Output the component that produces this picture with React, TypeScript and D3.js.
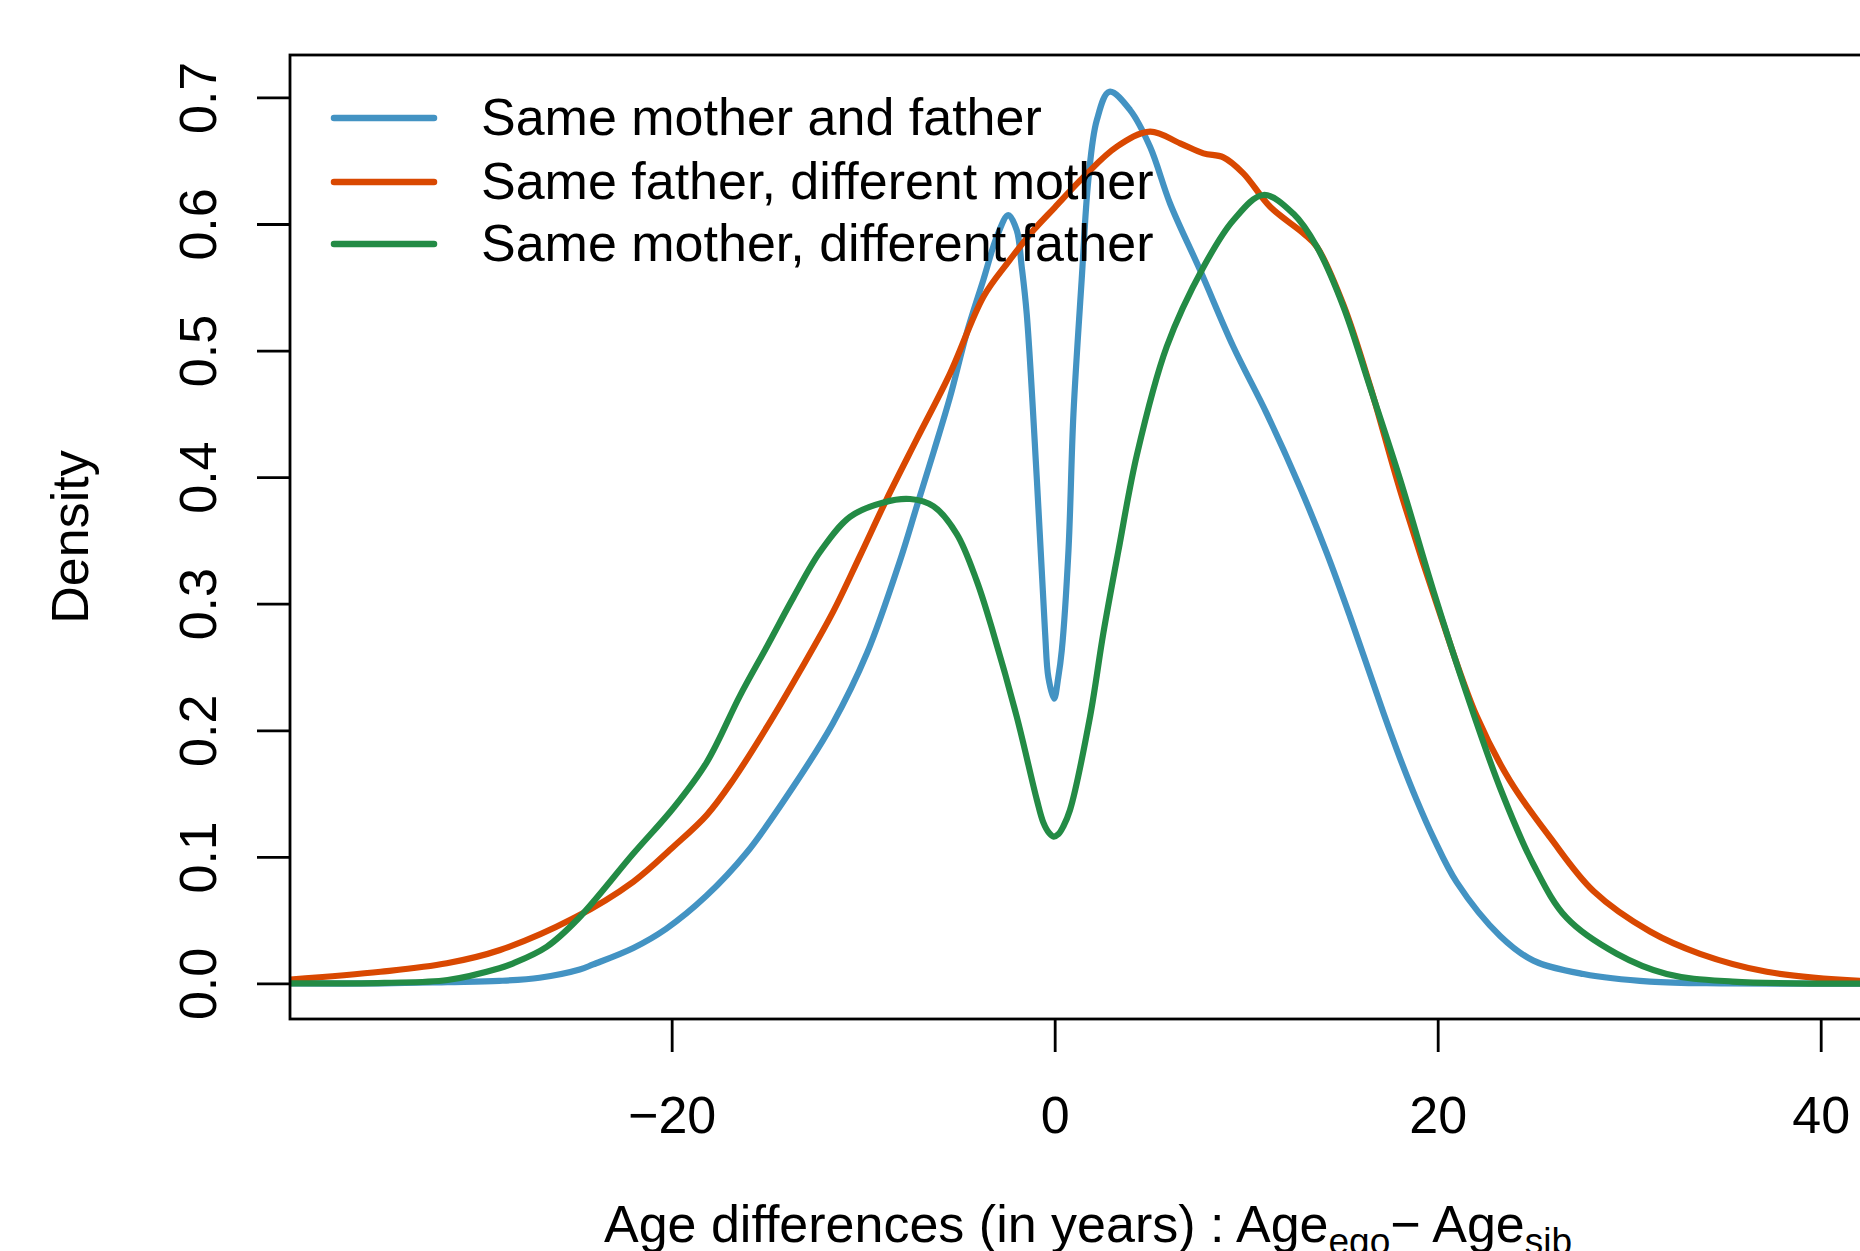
import React, { useEffect, useRef } from 'react';
import * as d3 from 'd3';

// density curves: [age difference, density]
const sameMotherAndFather: [number, number][] = [
  [-40, 0.0], [-35, 0.0], [-31.7, 0.001], [-29, 0.002], [-26.9, 0.0045], [-24.8, 0.011],
  [-24.1, 0.015], [-22, 0.028], [-20.3, 0.043], [-18.2, 0.069], [-16.1, 0.103],
  [-13.8, 0.152], [-11.6, 0.205], [-9.8, 0.261], [-8.1, 0.333], [-7.2, 0.377],
  [-6.3, 0.421], [-5.46, 0.4635], [-4.59, 0.514], [-3.72, 0.556], [-3.02, 0.59],
  [-2.42, 0.607], [-1.98, 0.595], [-1.72, 0.566], [-1.46, 0.529], [-0.93, 0.398],
  [-0.5, 0.277], [-0.33, 0.242], [-0.03, 0.225], [0.19, 0.242], [0.37, 0.263],
  [0.72, 0.342], [0.98, 0.45], [1.41, 0.556], [1.76, 0.635], [2.2, 0.682],
  [2.86, 0.7045], [3.94, 0.69], [4.98, 0.661], [6.03, 0.616], [7.59, 0.5636],
  [9.33, 0.503], [11.08, 0.45], [12.81, 0.392], [14.21, 0.34], [15.42, 0.29],
  [17.16, 0.214], [18.03, 0.178], [18.9, 0.145], [19.78, 0.115], [20.99, 0.08],
  [23.26, 0.0375], [25, 0.018], [27.61, 0.0074], [31.09, 0.0014], [35, 0.0], [44, 0.0],
];

const sameFatherDiffMother: [number, number][] = [
  [-40, 0.003], [-35.2, 0.0092], [-31.74, 0.0159], [-28.96, 0.0264], [-25.13, 0.0514],
  [-22, 0.0804], [-19.91, 0.108], [-18.17, 0.133], [-16.78, 0.161], [-15.03, 0.2024],
  [-13.3, 0.2468], [-11.56, 0.2939], [-10.16, 0.338], [-8.77, 0.3827], [-7.2, 0.43],
  [-5.46, 0.482], [-3.72, 0.5425], [-2.42, 0.57], [-1.11, 0.595], [0, 0.613],
  [1.5, 0.637], [3.24, 0.661], [4.98, 0.673], [6.55, 0.6637], [7.77, 0.6558],
  [8.81, 0.6526], [9.85, 0.64], [11.25, 0.6136], [12.99, 0.5926], [13.69, 0.582],
  [15.08, 0.536], [16.47, 0.472], [18.03, 0.39], [20.12, 0.292], [22.04, 0.211],
  [23.78, 0.16], [25.87, 0.1153], [28.13, 0.073], [31.09, 0.041], [33.7, 0.0234],
  [37.19, 0.0092], [42.06, 0.002], [44, 0.0015],
];

const sameMotherDiffFather: [number, number][] = [
  [-40, 0.0], [-35, 0.0005], [-31.7, 0.0027], [-29, 0.012], [-28.27, 0.0159],
  [-26.52, 0.029], [-24.87, 0.0513], [-22, 0.1026], [-19.91, 0.1386], [-18.17, 0.1747],
  [-16.43, 0.2274], [-15.03, 0.266], [-13.64, 0.305], [-12.25, 0.341], [-10.68, 0.3687],
  [-8.94, 0.38], [-7.55, 0.3827], [-6.33, 0.377], [-5.11, 0.355], [-4.07, 0.318],
  [-3.2, 0.2766], [-1.98, 0.2107], [-0.93, 0.145], [-0.59, 0.127], [-0.3, 0.119],
  [-0.05, 0.116], [0.2, 0.118], [0.45, 0.124], [0.8, 0.137], [1.85, 0.211],
  [2.54, 0.2766], [3.33, 0.342], [4.29, 0.4174], [5.85, 0.503], [7.77, 0.566],
  [9.33, 0.603], [10.9, 0.6229], [12.47, 0.608], [13.69, 0.582], [15.08, 0.5346],
  [16.47, 0.471], [18.04, 0.398], [19.78, 0.31], [21.52, 0.2286], [23.26, 0.1544],
  [25, 0.094], [26.74, 0.0517], [29.35, 0.0234], [31.96, 0.0074], [35.4, 0.0015], [44, 0.0],
];

const seriesNames = [
  'Same mother and father',
  'Same father, different mother',
  'Same mother, different father',
];
const seriesColors = ['#4393c3', '#d94801', '#238b45'];
const xTicks = [-20, 0, 20, 40];
const yTicks = [0, 0.1, 0.2, 0.3, 0.4, 0.5, 0.6, 0.7];

const W = 1860;
const H = 1251;

const App: React.FC = () => {
  const ref = useRef<SVGSVGElement>(null);

  useEffect(() => {
    if (!ref.current) return;
    const svg = d3.select(ref.current);
    svg.selectAll('*').remove();

    const left = 290, top = 55, right = 1886, bottom = 1019;
    const font = "'Liberation Sans', Arial, Helvetica, sans-serif";

    const x = d3.scaleLinear().domain([-39.93, 43.41]).range([left, right]);
    const y = d3.scaleLinear().domain([-0.0281, 0.7335]).range([bottom, top]);

    svg.append('defs').append('clipPath').attr('id', 'plot-clip')
      .append('rect')
      .attr('x', left).attr('y', top)
      .attr('width', right - left).attr('height', bottom - top);

    const line = d3.line<[number, number]>()
      .x(d => x(d[0]))
      .y(d => y(d[1]))
      .curve(d3.curveCatmullRom.alpha(0.5));

    const allSeries = [sameMotherAndFather, sameFatherDiffMother, sameMotherDiffFather];
    const curves = svg.append('g').attr('clip-path', 'url(#plot-clip)');
    allSeries.forEach((s, i) => {
      curves.append('path')
        .datum(s)
        .attr('fill', 'none')
        .attr('stroke', seriesColors[i])
        .attr('stroke-width', 6.2)
        .attr('stroke-linejoin', 'round')
        .attr('stroke-linecap', 'round')
        .attr('d', line);
    });

    // box
    svg.append('rect')
      .attr('x', left).attr('y', top)
      .attr('width', right - left).attr('height', bottom - top)
      .attr('fill', 'none')
      .attr('stroke', '#000')
      .attr('stroke-width', 2.8);

    // x axis
    const xAxis = svg.append('g')
      .attr('transform', `translate(0,${bottom})`)
      .call(d3.axisBottom(x).tickValues(xTicks).tickSize(33).tickSizeOuter(0).tickPadding(44));
    xAxis.select('.domain').remove();
    xAxis.selectAll('line').attr('stroke', '#000').attr('stroke-width', 2.8);
    xAxis.selectAll('text')
      .attr('fill', '#000')
      .style('font-family', font)
      .style('font-size', '52px');

    // y axis, labels parallel to the axis
    const yAxis = svg.append('g')
      .attr('transform', `translate(${left},0)`)
      .call(d3.axisLeft(y).tickValues(yTicks).tickSize(33).tickSizeOuter(0).tickFormat(d3.format('.1f')));
    yAxis.select('.domain').remove();
    yAxis.selectAll('line').attr('stroke', '#000').attr('stroke-width', 2.8);
    yAxis.selectAll('text')
      .attr('x', 0).attr('y', 0).attr('dy', null)
      .attr('transform', 'translate(-74,0) rotate(-90)')
      .attr('text-anchor', 'middle')
      .attr('fill', '#000')
      .style('font-family', font)
      .style('font-size', '52px');

    // axis titles
    svg.append('text')
      .attr('transform', `translate(88,${(top + bottom) / 2}) rotate(-90)`)
      .attr('text-anchor', 'middle')
      .style('font-family', font)
      .style('font-size', '52px')
      .text('Density');

    const title = svg.append('text')
      .attr('x', (left + right) / 2)
      .attr('y', 1242)
      .attr('text-anchor', 'middle')
      .style('font-family', font)
      .style('font-size', '52px');
    title.append('tspan').text('Age differences (in years) : Age');
    title.append('tspan').attr('dy', 12).style('font-size', '37px').text('ego');
    title.append('tspan').attr('dy', -12).text('\u2212 Age');
    title.append('tspan').attr('dy', 12).style('font-size', '37px').text('sib');

    // legend
    const legendY = [118, 182, 244];
    seriesNames.forEach((name, i) => {
      svg.append('line')
        .attr('x1', 334).attr('x2', 434)
        .attr('y1', legendY[i]).attr('y2', legendY[i])
        .attr('stroke', seriesColors[i])
        .attr('stroke-width', 6.5)
        .attr('stroke-linecap', 'round');
      svg.append('text')
        .attr('x', 481)
        .attr('y', legendY[i] + 17)
        .style('font-family', font)
        .style('font-size', '52px')
        .text(name);
    });
  }, []);

  return (
    <svg
      ref={ref}
      width={W}
      height={H}
      style={{ position: 'absolute', left: 0, top: 0, background: '#fff' }}
    />
  );
};

export default App;
